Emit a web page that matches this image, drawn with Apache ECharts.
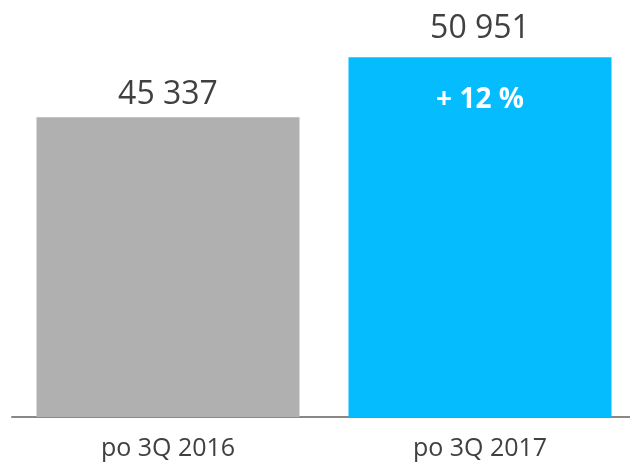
<!DOCTYPE html>
<html lang="pl">
<head>
    <meta charset="UTF-8">
    <title>po 3Q</title>
    <style>
        *{ padding:0; margin:0; }
        html, body{ width:100%; height:100%; background:#fff; overflow:hidden; }
        #main{ width:636px; height:469px; }
    </style>
    <script src="https://cdn.jsdelivr.net/npm/echarts@6/dist/echarts.min.js"></script>
</head>
<body>
<div id="main"></div>
<script>
    var categories = ['po 3Q 2016', 'po 3Q 2017'];
    var values = [45337, 50951];
    var growthLabels = ['', '+ 12 %'];
    var barColors = ['#b0b0b0', '#05bcfe'];
    var labelGaps = [6, 12];

    function fmt(v){
        return String(v).replace(/\B(?=(\d{3})+(?!\d))/g, ' ');
    }

    var myChart = echarts.init(document.getElementById('main'));
    var option = {
        animation: false,
        grid: { left: 12, right: 0, top: 30, bottom: 52 },
        xAxis: {
            type: 'category',
            data: categories,
            axisTick: { show: false },
            axisLine: { lineStyle: { color: '#8a8884', width: 2 } },
            axisLabel: {
                margin: 19,
                color: '#404040',
                fontSize: 25,
                fontFamily: 'Open Sans'
            }
        },
        yAxis: {
            type: 'value',
            min: 17300,
            max: 53500,
            show: false
        },
        series: [
            {
                type: 'bar',
                barWidth: 263,
                data: values.map(function(v, i){
                    return {
                        value: v,
                        itemStyle: { color: barColors[i] },
                        label: { distance: labelGaps[i] }
                    };
                }),
                label: {
                    show: true,
                    position: 'top',
                    color: '#404040',
                    fontSize: 32,
                    fontFamily: 'Open Sans',
                    formatter: function(p){ return fmt(p.value); }
                }
            },
            {
                type: 'bar',
                barWidth: 263,
                barGap: '-100%',
                silent: true,
                itemStyle: { color: 'transparent' },
                data: values,
                label: {
                    show: true,
                    position: 'insideTop',
                    distance: 29,
                    color: '#fff',
                    fontSize: 28,
                    fontWeight: 'bold',
                    fontFamily: 'Open Sans',
                    formatter: function(p){ return growthLabels[p.dataIndex]; }
                }
            }
        ]
    };
    myChart.setOption(option);
</script>
</body>
</html>
